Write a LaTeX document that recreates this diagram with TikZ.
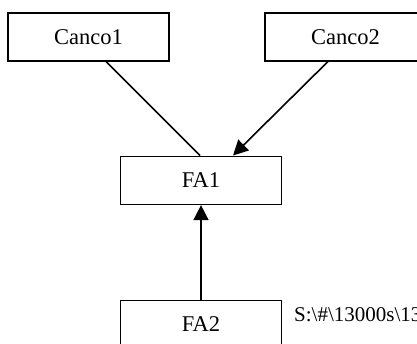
\documentclass[tikz,border=0pt]{standalone}
\usepackage{fontspec}
\setmainfont{Liberation Serif}
\usetikzlibrary{arrows.meta}
\begin{document}
\begin{tikzpicture}[x=1pt,y=-1pt,
  box/.style={draw=black, line width=1.6pt, minimum width=161pt, minimum height=48pt, inner sep=0pt,
    font=\fontsize{22.5}{26}\selectfont},
  link/.style={line width=1.6pt},
  arr/.style={line width=1.6pt, -{Triangle[length=15pt,width=15pt]}}]
\useasboundingbox (0,0) rectangle (417,343);
\fill[white] (0,0) rectangle (417,343);
\node[box] (c1) at (88.5,36.7) {Canco1};
\node[box] (c2) at (345.5,36.7) {Canco2};
\node[box] (fa1) at (201,180.3) {FA1};
\node[box] (fa2) at (201,324.5) {FA2};
\node[anchor=base west, inner sep=0pt, font=\fontsize{21}{25}\selectfont] (path) at (294,321) {S:\textbackslash\#\textbackslash 13000s\textbackslash 13};
\draw[link] ([xshift=17.5pt]c1.south) -- ([xshift=-1pt]fa1.north);
\draw[arr] ([xshift=-17.5pt]c2.south) -- ([xshift=32pt]fa1.north);
\draw[arr] (fa2.north) -- (fa1.south);
\end{tikzpicture}
\end{document}
